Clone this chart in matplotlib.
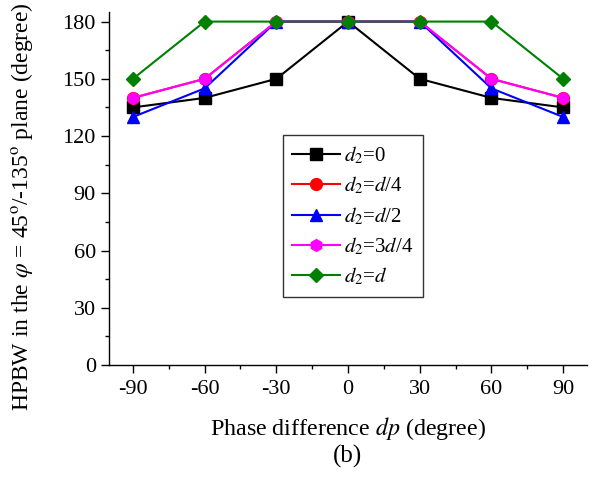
import matplotlib
matplotlib.use("Agg")
import matplotlib.pyplot as plt
from matplotlib.ticker import MultipleLocator

plt.rcParams['font.family'] = ['Liberation Serif', 'DejaVu Serif']
plt.rcParams['mathtext.fontset'] = 'stix'

phase = [-90, -60, -30, 0, 30, 60, 90]
hpbw_0 = [135, 140, 150, 180, 150, 140, 135]
hpbw_q1 = [140, 150, 180, 180, 180, 150, 140]
hpbw_q2 = [130, 145, 180, 180, 180, 145, 130]
hpbw_q3 = [140, 150, 180, 180, 180, 150, 140]
hpbw_d = [150, 180, 180, 180, 180, 180, 150]

labels = [r'$d_2$=0', r'$d_2$=$d$/4', r'$d_2$=$d$/2', r'$d_2$=3$d$/4', r'$d_2$=$d$']
colors = ['black', 'red', 'blue', 'magenta', '#008000']
markers = ['s', 'o', '^', 'h', 'D']
sizes = [8, 8.5, 8.5, 8.5, 7.5]
series = [hpbw_0, hpbw_q1, hpbw_q2, hpbw_q3, hpbw_d]

fig = plt.figure(figsize=(6.04, 4.82), dpi=100)
ax = fig.add_axes([0.1805, 0.2427, 0.7915, 0.7323])

for ys, c, m, ms, lab in zip(series, colors, markers, sizes, labels):
    ax.plot(phase, ys, color=c, marker=m, markersize=ms,
            linewidth=1.5, label=lab, clip_on=False)

ax.set_xlim(-100, 100)
ax.set_ylim(0, 185)
ax.xaxis.set_minor_locator(MultipleLocator(15))
ax.yaxis.set_major_locator(MultipleLocator(30))
ax.yaxis.set_minor_locator(MultipleLocator(15))
ax.set_xticks(phase)
ax.set_xticklabels([str(v) for v in phase])

for side in ['top', 'right']:
    ax.spines[side].set_visible(False)
for side in ['left', 'bottom']:
    ax.spines[side].set_linewidth(1.0)

ax.tick_params(which='major', direction='out', length=6, width=1, labelsize=16)
ax.tick_params(axis='x', which='major', pad=5)
ax.tick_params(which='minor', direction='out', length=3, width=1)

ax.set_xlabel(r'Phase difference $dp$ (degree)', fontsize=17.3, labelpad=11)
ax.set_ylabel(r'HPBW in the $\varphi$ = 45$^{\rm o}$/-135$^{\rm o}$ plane (degree)',
              fontsize=17)
ax.yaxis.set_label_coords(-0.155, 0.45)

leg = ax.legend(loc='upper left', bbox_to_anchor=(0.364, 0.652), borderaxespad=0,
                fontsize=15, frameon=True, fancybox=False, edgecolor='black',
                handlelength=2.3, borderpad=0.45, labelspacing=0.42,
                handletextpad=0.2)
leg.get_frame().set_linewidth(1.0)

fig.text(0.576, 0.054, '(b)', ha='center', va='center', fontsize=18)

fig.savefig('out.png', dpi=100)
